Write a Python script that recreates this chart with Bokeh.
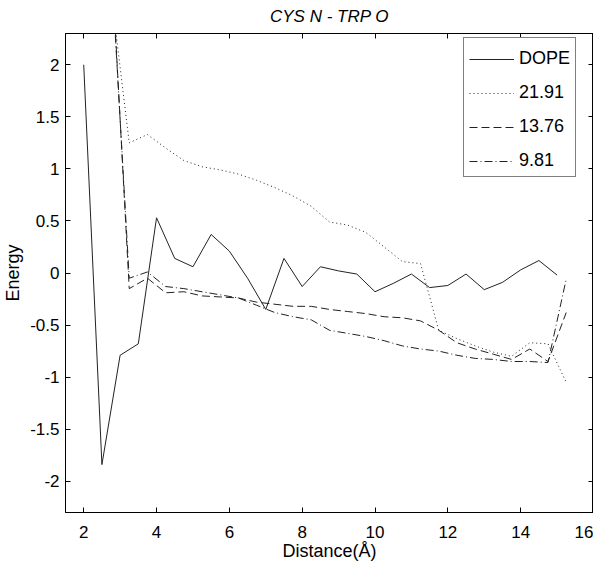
from bokeh.plotting import figure
from bokeh.models import (Range1d, LinearAxis, FixedTicker, Legend, LegendItem)
from bokeh.embed import file_html
from bokeh.resources import INLINE

# ---- data ----
title_text = "CYS N - TRP O"
x_label = "Distance(Å)"
y_label = "Energy"

dope_x = [2.0, 2.5, 3.0, 3.5, 4.0, 4.5, 5.0, 5.5, 6.0, 6.5, 7.0, 7.5, 8.0, 8.5,
          9.0, 9.5, 10.0, 10.5, 11.0, 11.5, 12.0, 12.5, 13.0, 13.5, 14.0, 14.5, 15.0]
dope_y = [2.00, -1.84, -0.79, -0.68, 0.53, 0.14, 0.06, 0.37, 0.21, -0.05, -0.35, 0.14, -0.13, 0.06,
          0.02, -0.01, -0.18, -0.10, -0.01, -0.14, -0.12, -0.01, -0.16, -0.09, 0.03, 0.12, -0.02]

model_x = [2.75, 3.25, 3.75, 4.25, 4.75, 5.25, 5.75, 6.25, 6.75, 7.25, 7.75, 8.25, 8.75,
           9.25, 9.75, 10.25, 10.75, 11.25, 11.75, 12.25, 12.75, 13.25, 13.75, 14.25, 14.75, 15.25]
s2191_y = [2.70, 1.25, 1.33, 1.20, 1.08, 1.02, 0.99, 0.95, 0.89, 0.82, 0.74, 0.64, 0.49,
           0.46, 0.39, 0.25, 0.11, 0.09, -0.55, -0.63, -0.70, -0.76, -0.80, -0.67, -0.68, -1.05]
s1376_y = [3.10, -0.15, -0.05, -0.19, -0.18, -0.22, -0.23, -0.24, -0.28, -0.30, -0.32, -0.32, -0.35,
           -0.37, -0.39, -0.42, -0.43, -0.46, -0.55, -0.67, -0.73, -0.78, -0.83, -0.73, -0.85, -0.38]
s981_y = [3.00, -0.05, 0.01, -0.13, -0.15, -0.18, -0.21, -0.24, -0.31, -0.38, -0.42, -0.45, -0.55,
          -0.58, -0.61, -0.65, -0.70, -0.73, -0.75, -0.79, -0.82, -0.83, -0.85, -0.85, -0.86, -0.06]

series_labels = ["DOPE", "21.91", "13.76", "9.81"]

x_ticks = [2, 4, 6, 8, 10, 12, 14, 16]
x_tick_labels = ["2", "4", "6", "8", "10", "12", "14", "16"]
y_ticks = [-2, -1.5, -1, -0.5, 0, 0.5, 1, 1.5, 2]
y_tick_labels = ["-2", "-1.5", "-1", "-0.5", "0", "0.5", "1", "1.5", "2"]

FONT = "Liberation Sans"
LC = "#222222"

p = figure(width=593, height=567, output_backend="svg", toolbar_location=None,
           x_range=Range1d(1.5, 16), y_range=Range1d(-2.3, 2.3),
           min_border_left=58, min_border_right=0, min_border_top=33, min_border_bottom=55,
           background_fill_color="white", border_fill_color="white")
p.grid.visible = False
p.outline_line_color = "black"
p.outline_line_width = 1

p.title.text = title_text
p.title.align = "center"
p.title.vertical_align = "top"
p.title.text_font = FONT
p.title.text_font_style = "italic"
p.title.text_font_size = "17px"
p.title.text_color = "black"
p.title.standoff = 12

xt = FixedTicker(ticks=x_ticks)
yt = FixedTicker(ticks=y_ticks)

def style_axis(ax):
    ax.major_tick_in = 5
    ax.major_tick_out = 0
    ax.minor_tick_in = 0
    ax.minor_tick_out = 0
    ax.minor_tick_line_color = None
    ax.axis_line_color = "black"
    ax.major_tick_line_color = "black"
    ax.major_label_text_font = FONT
    ax.major_label_text_font_size = "17px"
    ax.major_label_text_color = "black"
    ax.axis_label_text_font = FONT
    ax.axis_label_text_font_size = "18px"
    ax.axis_label_text_font_style = "normal"
    ax.axis_label_text_color = "black"

xa = p.xaxis[0]
xa.ticker = xt
xa.major_label_overrides = {float(t): s for t, s in zip(x_ticks, x_tick_labels)}
xa.axis_label = x_label
style_axis(xa)
xa.major_label_standoff = 13
xa.axis_label_standoff = 0

ya = p.yaxis[0]
ya.ticker = yt
ya.major_label_overrides = {float(t): s for t, s in zip(y_ticks, y_tick_labels)}
ya.axis_label = y_label
style_axis(ya)
ya.major_label_standoff = 6
ya.axis_label_standoff = 4

def style_mirror(ax):
    style_axis(ax)
    ax.major_label_standoff = 0
    ax.axis_label_standoff = 0
    ax.major_label_text_font_size = "1px"
    ax.major_label_text_alpha = 0

top = LinearAxis(ticker=xt, major_label_overrides={float(t): " " for t in x_ticks})
style_mirror(top)
p.add_layout(top, "above")

right = LinearAxis(ticker=yt, major_label_overrides={float(t): " " for t in y_ticks})
style_mirror(right)
p.add_layout(right, "right")

r1 = p.line(dope_x, dope_y, line_color=LC, line_width=1)
r2 = p.line(model_x, s2191_y, line_color=LC, line_width=1, line_dash="1 3")
r3 = p.line(model_x, s1376_y, line_color=LC, line_width=1, line_dash="8 4")
r4 = p.line(model_x, s981_y, line_color=LC, line_width=1, line_dash="8 3 1 3")

legend = Legend(items=[LegendItem(label=series_labels[0], renderers=[r1]),
                       LegendItem(label=series_labels[1], renderers=[r2]),
                       LegendItem(label=series_labels[2], renderers=[r3]),
                       LegendItem(label=series_labels[3], renderers=[r4])],
                location=(398, 335), margin=0, padding=5, spacing=13,
                title=" ", title_text_font_size="1px", title_standoff=4,
                glyph_width=45, glyph_height=20, label_height=20, label_standoff=5,
                label_text_font=FONT, label_text_font_size="18px", label_text_color="black",
                border_line_color="black", border_line_width=1,
                background_fill_color="white", background_fill_alpha=1)
p.add_layout(legend, "center")

open("out.html", "w").write(file_html(p, INLINE))
